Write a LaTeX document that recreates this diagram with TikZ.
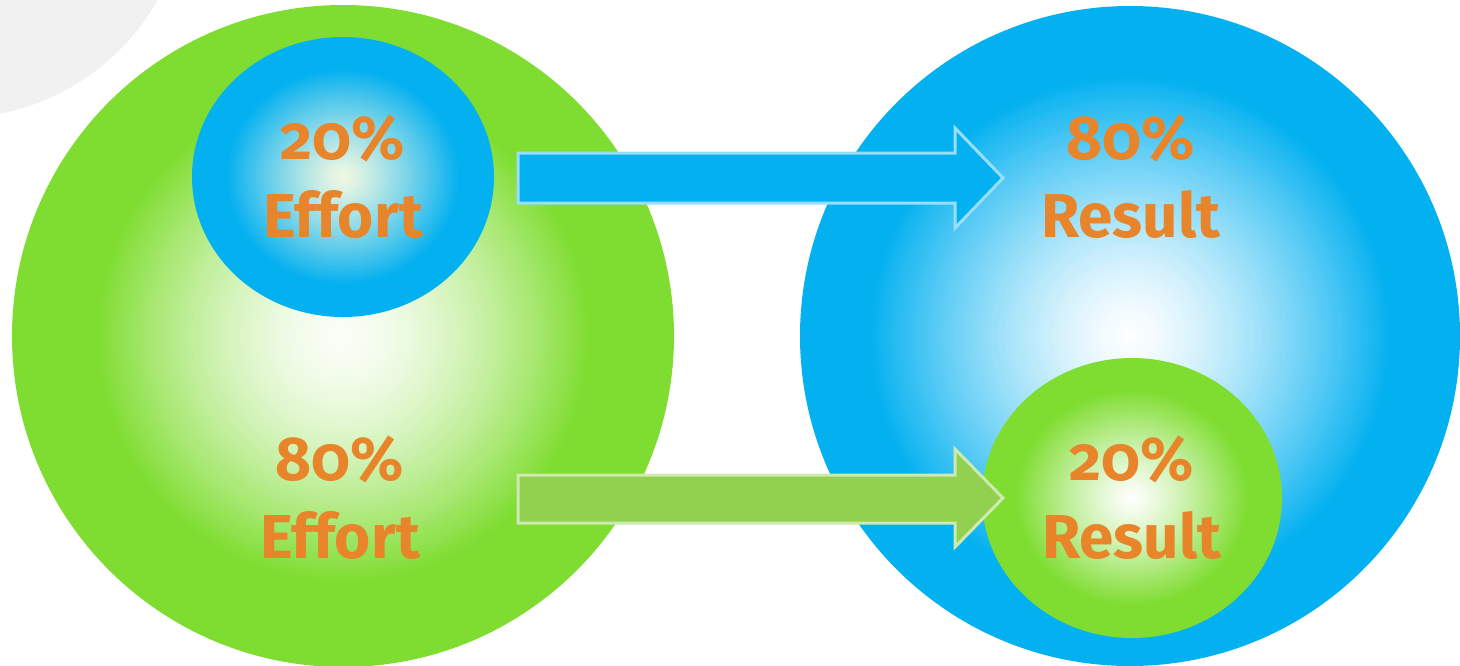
\documentclass[tikz,border=0pt]{standalone}
\usepackage{fontspec}
\setmainfont{Fira Sans}[Numbers=OldStyle]
\definecolor{gr}{HTML}{7FDD31}
\definecolor{bl}{HTML}{03B0F0}
\definecolor{ag}{HTML}{92D050}
\definecolor{txt}{HTML}{E8852A}
\definecolor{grayc}{HTML}{F1F1F1}
\definecolor{cream}{HTML}{F2F9E2}
\tikzset{
  lbl/.style={text=txt, font=\fontsize{31}{39}\selectfont\bfseries, align=center, inner sep=0pt},
  blockarrow/.style={line width=1.5pt, line join=miter}
}
% \ballgrad{cx}{cy}{rx}{ry}{centre colour}{rim colour}{rim fraction}{exponent}{max percent}
\newcommand{\ballgrad}[9]{%
  \foreach \i in {0,...,89}{%
    \pgfmathsetmacro\tt{1-\i/90}%
    \pgfmathtruncatemacro\ww{max(0,#9*(1-(\tt/#7)^#8))}%
    \fill[#5!\ww!#6] (#1,#2) ellipse [x radius=#3*\tt, y radius=#4*\tt];
  }%
}
\begin{document}
\begin{tikzpicture}[x=0.5pt,y=-0.5pt]
\useasboundingbox (0,0) rectangle (1460,665);
\fill[white] (0,0) rectangle (1460,665);
\begin{scope}
\clip (0,0) rectangle (1460,665);
\fill[grayc] (-45,-115) circle [radius=233];
\ballgrad{343}{336}{331}{331}{white}{gr}{0.75}{1.6}{97}
\ballgrad{1130}{336}{330}{330}{white}{bl}{0.8}{1.4}{100}
\end{scope}
\ballgrad{343}{177}{151}{140}{cream}{bl}{0.78}{1.2}{100}
\ballgrad{1132}{498}{150}{140}{white}{gr}{0.78}{1.2}{100}
% arrows
\draw[blockarrow, fill=bl, draw=white!60!bl] (518,153) -- (955,153) -- (955,128) -- (1003,178) -- (955,228) -- (955,203) -- (518,203) -- cycle;
\draw[blockarrow, fill=ag, draw=white!55!ag] (518,475) -- (955,475) -- (955,449) -- (1003,498) -- (955,547) -- (955,523) -- (518,523) -- cycle;
% labels
\node[lbl] (e20) at (343,177) {20\%\\Effort};
\node[lbl] (e80) at (340,498) {80\%\\Effort};
\node[lbl] (r80) at (1131,177) {80\%\\Result};
\node[lbl] (r20) at (1132,498) {20\%\\Result};
\end{tikzpicture}
\end{document}
